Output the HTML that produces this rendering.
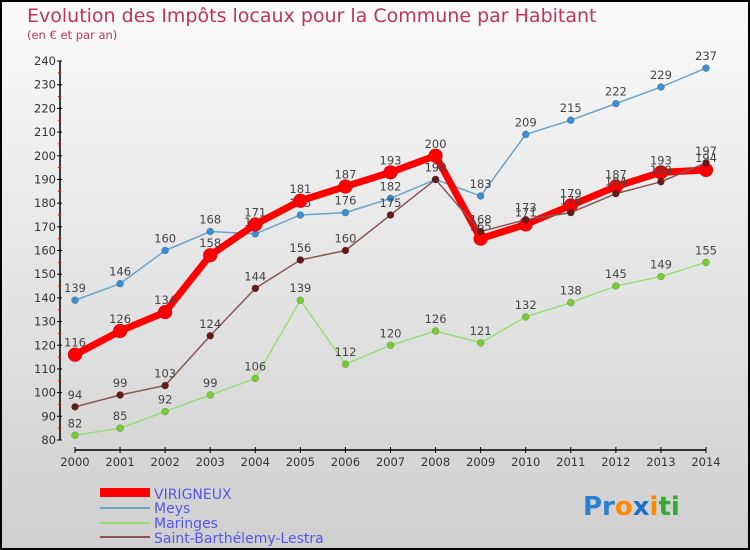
<!DOCTYPE html>
<html><head><meta charset="utf-8"><style>
body{margin:0}
svg{display:block;font-family:"DejaVu Sans","Liberation Sans",sans-serif}
</style></head><body>
<svg id="c" width="750" height="550">
<defs><linearGradient id="bg" x1="0" y1="0" x2="0" y2="1"><stop offset="0" stop-color="#fafafa"/><stop offset="1" stop-color="#cfcfcf"/></linearGradient></defs>
<rect x="1" y="1" width="748" height="548" fill="url(#bg)" stroke="#000" stroke-width="2"/>
<text x="27" y="22" font-size="19" fill="#c0335e">Evolution des Impôts locaux pour la Commune par Habitant</text>
<text x="27" y="39" font-size="11.5" fill="#c0335e">(en € et par an)</text>
<g id="axes"></g><g id="series"></g>
<g>
<rect x="100" y="488" width="50" height="9" fill="#f00"/>
<text x="154" y="499" font-size="14" fill="#5555ee">VIRIGNEUX</text>
<rect x="100" y="507" width="50" height="2" fill="#6aa3cc"/>
<text x="154" y="513" font-size="14" fill="#5555ee">Meys</text>
<rect x="100" y="522" width="50" height="2" fill="#99dd77"/>
<text x="154" y="528" font-size="14" fill="#5555ee">Maringes</text>
<rect x="100" y="536" width="50" height="2" fill="#885555"/>
<text x="154" y="543" font-size="14" fill="#5555ee">Saint-Barthélemy-Lestra</text>
</g>
<text x="583" y="515" font-size="26" font-weight="bold"><tspan fill="#2a7fd0">Pr</tspan><tspan fill="#ff8800">o</tspan><tspan fill="#1a6fc8">x</tspan><tspan fill="#ff8800">i</tspan><tspan fill="#33aa33">ti</tspan></text>
</svg>
<script>
const years=[2000,2001,2002,2003,2004,2005,2006,2007,2008,2009,2010,2011,2012,2013,2014];
const yTicks=[80,90,100,110,120,130,140,150,160,170,180,190,200,210,220,230,240];
const virigneux=[116,126,134,158,171,181,187,193,200,165,171,179,187,193,194];
const meys=[139,146,160,168,167,175,176,182,190,183,209,215,222,229,237];
const maringes=[82,85,92,99,106,139,112,120,126,121,132,138,145,149,155];
const sbl=[94,99,103,124,144,156,160,175,190,168,173,176,184,189,197];
const NS="http://www.w3.org/2000/svg";
function X(i){return 75+i*(706-75)/14;}
function Y(v){return 440-(v-80)*(440-61)/160;}
function mk(t,a,p){const e=document.createElementNS(NS,t);for(const k in a)e.setAttribute(k,a[k]);p.appendChild(e);return e;}
const ax=document.getElementById('axes');
let l=mk('line',{x1:60,y1:61,x2:60,y2:440,stroke:'#000','stroke-width':1.5},ax);


l=mk('line',{x1:75,y1:450,x2:706,y2:450,stroke:'#000','stroke-width':1.5},ax);


yTicks.forEach((v,i)=>{
  mk('line',{x1:57,y1:Y(v),x2:62,y2:Y(v),stroke:'#000'},ax);
  if(i<yTicks.length-1)mk('line',{x1:58,y1:Y(v+5),x2:61,y2:Y(v+5),stroke:'#f00'},ax);
  const t=mk('text',{x:56,y:Y(v)+4,'font-size':11.5,fill:'#333','text-anchor':'end'},ax);t.textContent=v;
  
  
});
years.forEach((y,i)=>{
  mk('line',{x1:X(i),y1:447,x2:X(i),y2:453,stroke:'#000'},ax);
  const t=mk('text',{x:X(i),y:466,'font-size':11.5,fill:'#333','text-anchor':'middle'},ax);t.textContent=y;
  
  
});
const sg=document.getElementById('series');
function draw(data,name,col,w,dot,dotCol){
  const g=mk('g',{},sg);
  
  
  const p=mk('polyline',{points:data.map((v,i)=>X(i)+','+Y(v)).join(' '),fill:'none',stroke:col,'stroke-width':w,'stroke-linejoin':'round'},g);
  
  
  data.forEach((v,i)=>{
    const c=mk('circle',{cx:X(i),cy:Y(v),r:dot,fill:dotCol,stroke:'rgba(0,0,0,0.3)','stroke-width':0.5},g);
    
    
    const t=mk('text',{x:X(i),y:Y(v)-8,'font-size':11.5,fill:'#444','text-anchor':'middle'},g);t.textContent=v;
    
    
  });
}
draw(maringes,'maringes','#99dd77',1.5,3.5,'#77cc33');
draw(meys,'meys','#6aa3cc',1.5,3.5,'#3b8fd0');
draw(virigneux,'virigneux','#f00',7,7,'#f00');
draw(sbl,'sbl','#885555',1.5,3.5,'#661a1a');
</script>
</body></html>
